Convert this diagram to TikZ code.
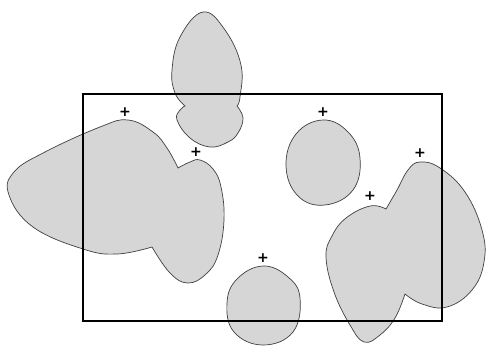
\documentclass[tikz,border=0pt]{standalone}
\usepackage{fontspec}
\newfontfamily\seedfont{DejaVu Sans}
\usetikzlibrary{positioning}
\tikzset{
  % regione punteggiata
  region/.style={draw=black!75, line width=0.6pt, fill=black!16},
  lobe/.style={smooth, tension=0.7},
  % finestra rettangolare
  window/.style={draw=black, line width=1.1pt},
  % punto di riferimento
  seed/.style={inner sep=0pt, font=\seedfont\bfseries\large},
}

\begin{document}
\begin{tikzpicture}[x=0.03cm, y=-0.03cm]
  \useasboundingbox (0,0) rectangle (486,347);
  % regione a sinistra (due lobi)
  \path[region] (152,247) -- plot[lobe] coordinates {(152,247) (117,254) (83,249) (33,227) (9,195)
    (14,172) (45,152) (100,127) (128,120) (153,132) (167,148) (178,168)}
    -- plot[lobe] coordinates {(178,168) (190,162) (200,160) (213,169) (221,187) (224,220)
    (218,255) (206,274) (188,283) (170,273) (152,247)} -- cycle;
  % regione in alto
  \path[region] (185,106) -- plot[lobe] coordinates {(185,106) (175,93) (172,70) (180,37) (203,12)
    (225,30) (241,65) (240,97) (237,106)}
    -- plot[lobe] coordinates {(237,106) (243,118) (238,133) (228,142) (210,147) (190,138)
    (177,120) (180,110) (185,106)} -- cycle;
  % regioni isolate
  \path[region] plot[smooth cycle, tension=0.7] coordinates {(323,120) (348,132) (360,158)
    (353,190) (325,205) (298,196) (286,166) (296,134)};
  \path[region] plot[smooth cycle, tension=0.7] coordinates {(263,266) (288,277) (300,298)
    (293,332) (263,345) (234,332) (227,303) (237,279)};
  % regione a destra (due lobi)
  \path[region] (405,294) -- plot[lobe] coordinates {(405,294) (395,318) (380,335) (364,342)
    (350,325) (334,292) (326,257) (332,236) (346,218) (370,206) (386,209)}
    -- plot[lobe] coordinates {(386,209) (397,190) (408,170) (420,162) (440,168) (465,192)
    (482,230) (484,262) (472,290) (447,307) (422,304) (405,294)} -- cycle;
  \draw[window] (83,94) rectangle (442,321);
  \node[seed] (s1) at (125,112) {+};
  \node[seed] (s2) at (196,152) {+};
  \node[seed] (s3) at (323,112) {+};
  \node[seed] (s4) at (420,153) {+};
  \node[seed] (s5) at (370,196) {+};
  \node[seed] (s6) at (263,258) {+};
\end{tikzpicture}
\end{document}
